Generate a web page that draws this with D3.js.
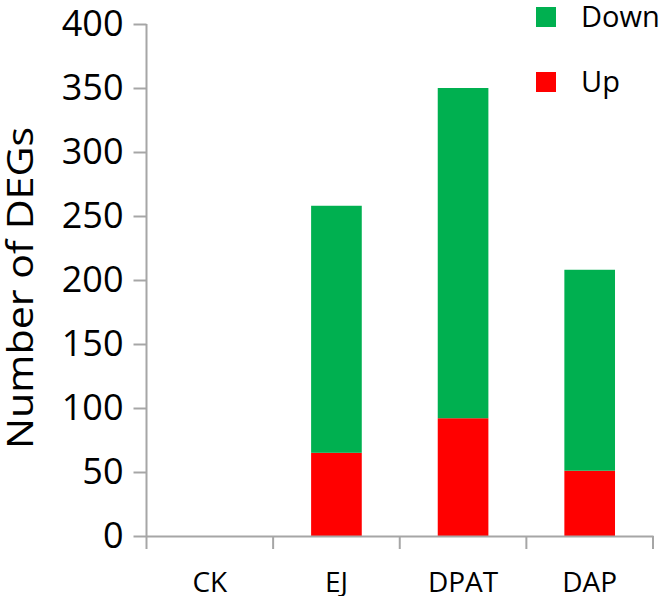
<!DOCTYPE html>
<html><head><meta charset="utf-8">
<script src="https://cdn.jsdelivr.net/npm/d3@7"></script>
<style>body{margin:0;background:#fff;} text{font-family:"Open Sans", sans-serif;}</style>
</head><body>
<svg id="c" width="666" height="596"></svg>
<script>
const categories = ["CK", "EJ", "DPAT", "DAP"];
const upValues = [0, 65, 92, 51];
const downValues = [0, 193, 258, 157];
const seriesNames = ["Up", "Down"];
const yTicks = [0, 50, 100, 150, 200, 250, 300, 350, 400];
const legendItems = ["Down", "Up"];

const svg = d3.select("#c");
const W = 666;
const left = 146.5, right = 13;
const y = d3.scaleLinear().domain([0, 400]).range([536, 24]);
const colors = {Up: "#ff0000", Down: "#00b050"};

const data = categories.map((c, i) => ({cat: c, Up: upValues[i], Down: downValues[i]}));
const stack = d3.stack().keys(seriesNames)(data);

const xb = d3.scaleBand().domain(categories).range([left, W - right]);

svg.append("g").selectAll("g").data(stack).join("g")
  .attr("fill", d => colors[d.key])
  .selectAll("rect").data(d => d).join("rect")
  .attr("x", d => xb(d.data.cat) + xb.bandwidth() * 0.3)
  .attr("width", xb.bandwidth() * 0.4)
  .attr("y", d => y(d[1]))
  .attr("height", d => y(d[0]) - y(d[1]));

// y axis
const ya = svg.append("g").attr("transform", `translate(${left},0)`)
  .call(d3.axisLeft(y).tickValues(yTicks).tickSize(13).tickPadding(10));
ya.select(".domain").attr("stroke", "#a6a6a6").attr("stroke-width", 2).attr("d", `M0,${y(400)}V${y(0)}`);
ya.selectAll(".tick line").attr("stroke", "#a6a6a6").attr("stroke-width", 2);
ya.selectAll(".tick text").attr("font-size", 36).attr("fill", "#000").attr("font-family", "Open Sans");

// x axis
const xa = svg.append("g").attr("transform", `translate(0,${y(0)})`)
  .call(d3.axisBottom(xb).tickSize(0).tickPadding(36));
xa.select(".domain").attr("stroke", "#a6a6a6").attr("stroke-width", 2);
xa.selectAll(".tick text").attr("font-size", 28).attr("fill", "#000").attr("font-family", "Open Sans");
const bounds = categories.map(c => xb(c)).concat([xb.range()[1]]);
xa.selectAll("line.b").data(bounds).join("line").attr("class", "b")
  .attr("x1", d => d).attr("x2", d => d).attr("y1", 0).attr("y2", 13)
  .attr("stroke", "#a6a6a6").attr("stroke-width", 2);

// y label
svg.append("text").attr("transform", "translate(33,288) rotate(-90)")
  .attr("text-anchor", "middle").attr("font-size", 36)
  .attr("textLength", 322).attr("lengthAdjust", "spacingAndGlyphs")
  .text("Number of DEGs");

// legend
const lg = svg.append("g").selectAll("g").data(legendItems).join("g")
  .attr("transform", (d, i) => `translate(536,${7 + i * 65})`);
lg.append("rect").attr("width", 20).attr("height", 20).attr("fill", d => colors[d]);
lg.append("text").attr("x", 45).attr("y", 20).attr("font-size", 29).text(d => d);
</script>
</body></html>
